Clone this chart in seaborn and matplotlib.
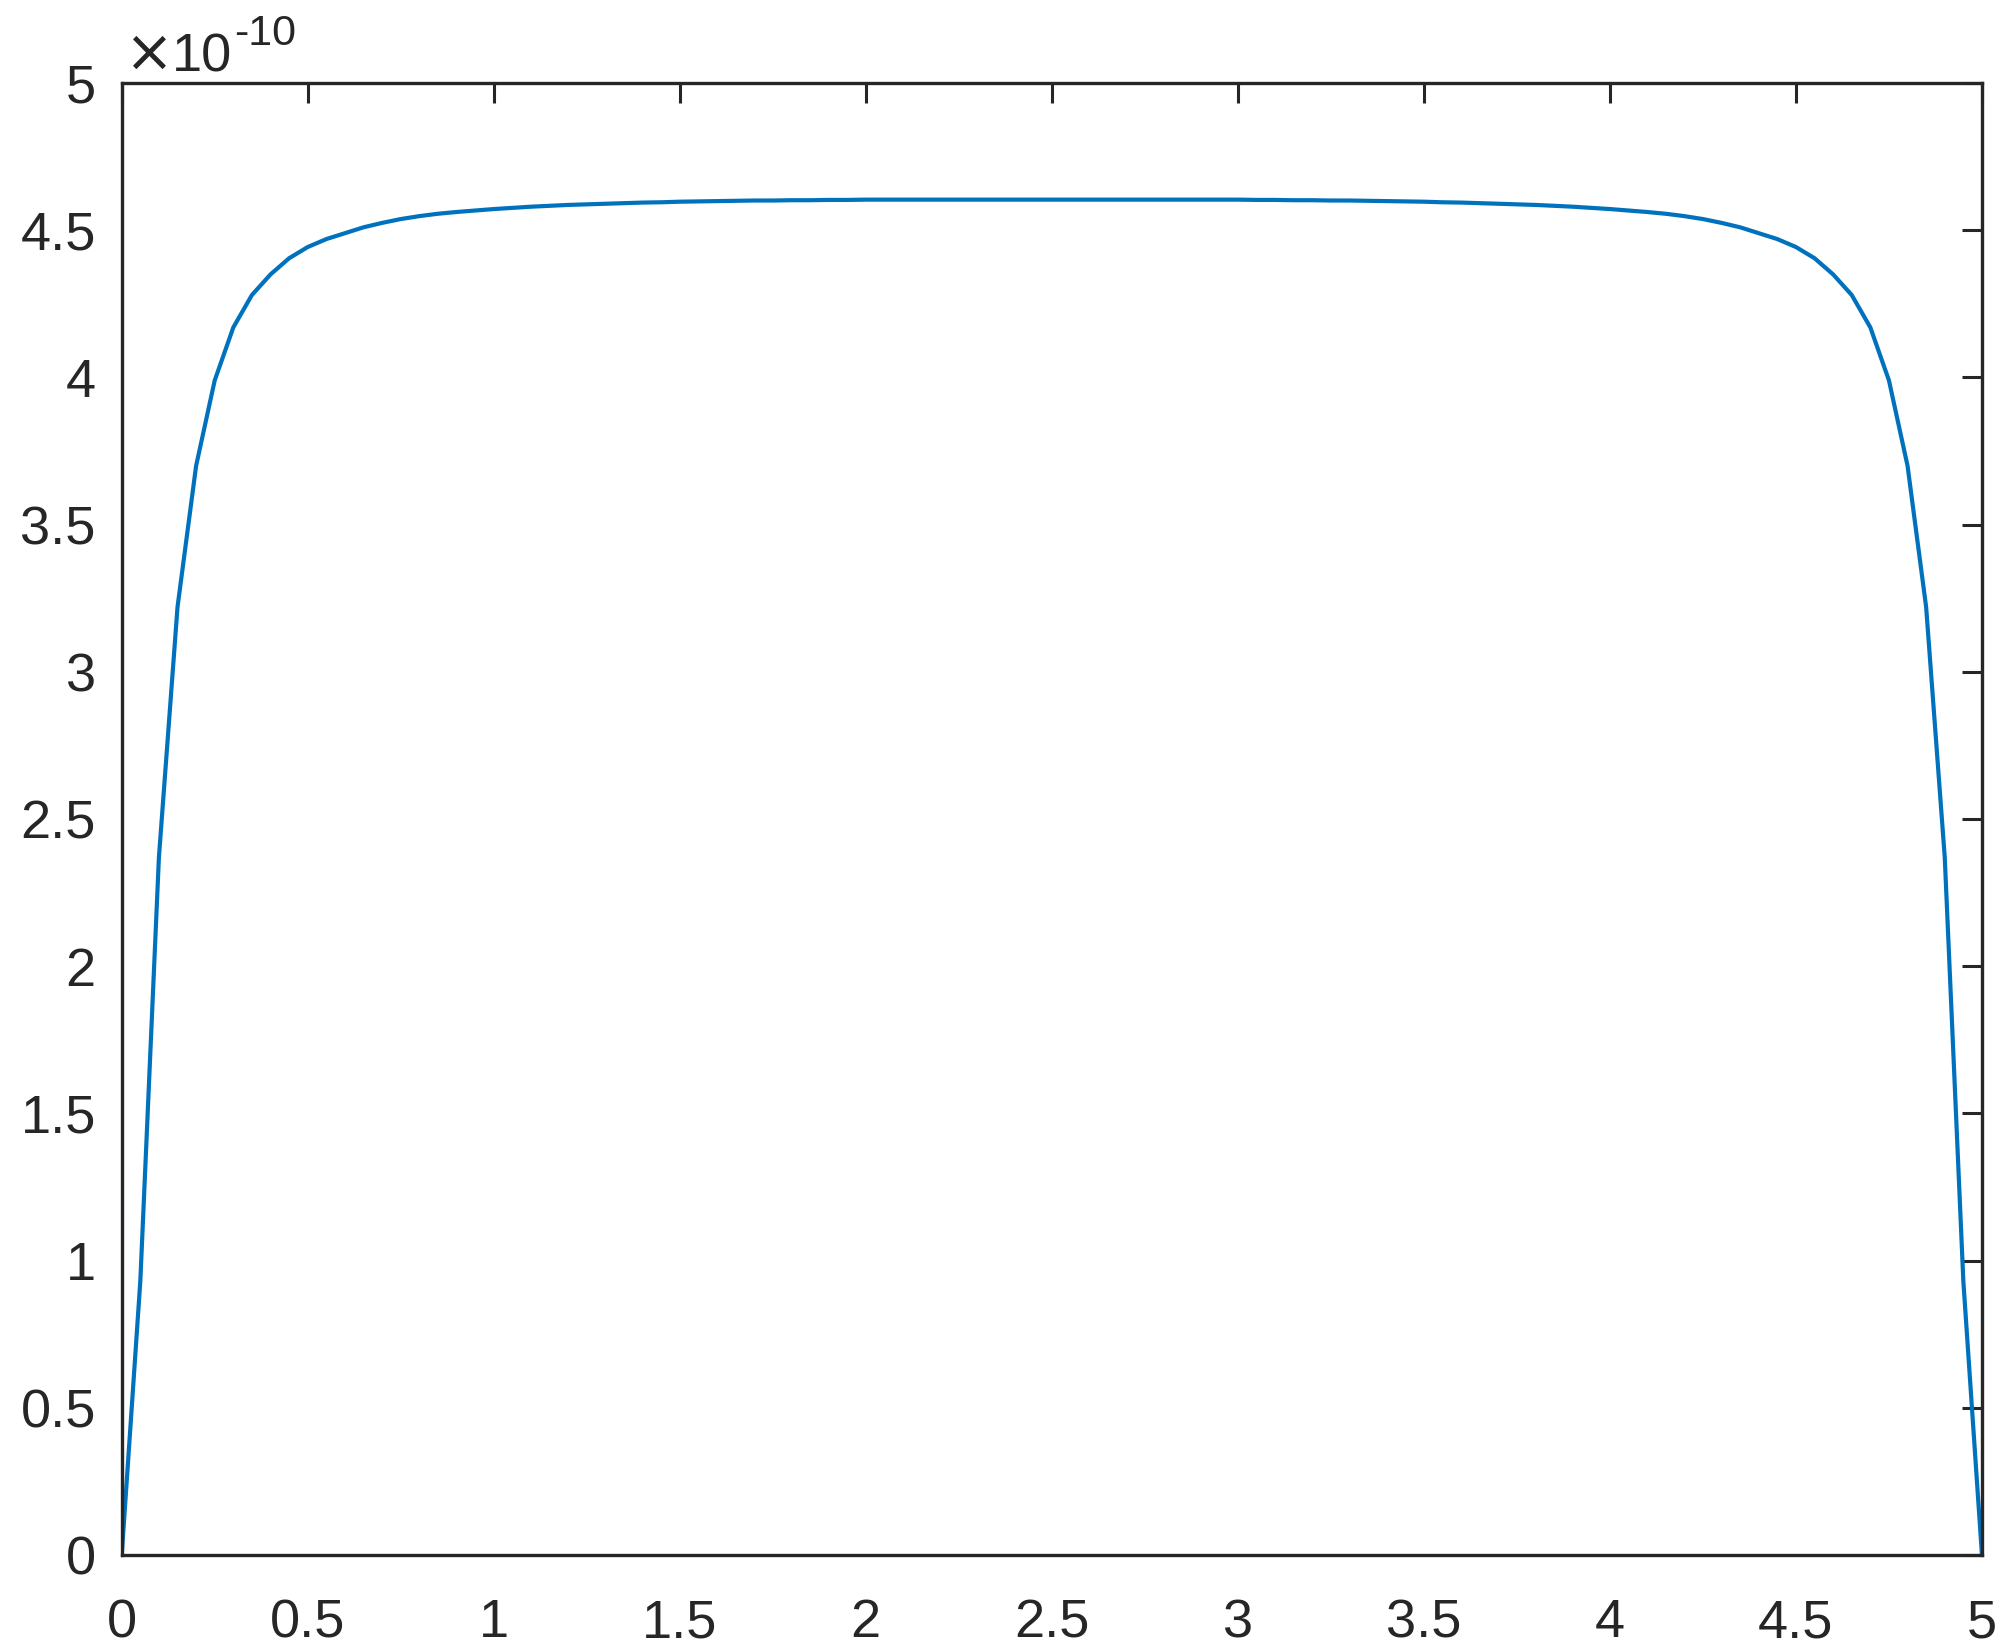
import numpy as np
import seaborn as sns
import matplotlib.pyplot as plt
from matplotlib.ticker import FuncFormatter, MultipleLocator

# sample positions, step 0.05 from 0 to 5
x_vals = [round(i * 0.05, 2) for i in range(101)]

# values in units of 1e-10
y_vals = [
    0.00, 0.93, 2.37, 3.22, 3.70, 3.99, 4.17, 4.28, 4.35, 4.405,
    4.443, 4.470, 4.490, 4.510, 4.525, 4.538, 4.548, 4.556, 4.562, 4.567,
    4.572, 4.576, 4.580, 4.583, 4.586, 4.588, 4.590, 4.592, 4.594, 4.595,
    4.597, 4.598, 4.599, 4.600, 4.601, 4.601, 4.602, 4.602, 4.603, 4.603,
    4.604, 4.604, 4.604, 4.604, 4.604, 4.604, 4.604, 4.604, 4.604, 4.604,
    4.604,
    4.604, 4.604, 4.604, 4.604, 4.604, 4.604, 4.604, 4.604, 4.604, 4.604,
    4.603, 4.603, 4.602, 4.602, 4.601, 4.601, 4.600, 4.599, 4.598, 4.597,
    4.595, 4.594, 4.592, 4.590, 4.588, 4.586, 4.583, 4.580, 4.576, 4.572,
    4.567, 4.562, 4.556, 4.548, 4.538, 4.525, 4.510, 4.490, 4.470, 4.443,
    4.405, 4.35, 4.28, 4.17, 3.99, 3.70, 3.22, 2.37, 0.93, 0.00,
]

sns.set_theme(style="white")
plt.rcParams['font.family'] = ['Liberation Sans', 'DejaVu Sans']

dark = '#262626'
fs = 19.5
fig = plt.figure(figsize=(10.075, 8.255), dpi=200)
ax = fig.add_axes([0.0604, 0.0581, 0.9232, 0.8916])

sns.lineplot(x=x_vals, y=y_vals, ax=ax, color='#0072BD', linewidth=1.5)

ax.set_xlim(0, 5)
ax.set_ylim(0, 5)
ax.xaxis.set_major_locator(MultipleLocator(0.5))
ax.yaxis.set_major_locator(MultipleLocator(0.5))
fmt = FuncFormatter(lambda v, p: f"{v:g}")
ax.xaxis.set_major_formatter(fmt)
ax.yaxis.set_major_formatter(fmt)

for s in ax.spines.values():
    s.set_visible(True)
    s.set_color(dark)
    s.set_linewidth(1.2)

ax.tick_params(axis='both', which='both', direction='in', length=7.2, width=1.1,
               color=dark, labelcolor=dark, labelsize=fs,
               top=True, right=True)
ax.tick_params(axis='x', pad=15.5)
ax.tick_params(axis='y', pad=9.3)

# exponent label, MATLAB style: "×10" with raised "-10"
ax.annotate('\u00d7', xy=(0, 1), xycoords='axes fraction', xytext=(1.2, 4.3),
            textcoords='offset points', ha='left', va='baseline',
            fontsize=21, color=dark, family='DejaVu Sans')
ax.annotate('10', xy=(0, 1), xycoords='axes fraction', xytext=(18.2, 4.3),
            textcoords='offset points', ha='left', va='baseline',
            fontsize=fs, color=dark)
ax.annotate('-10', xy=(0, 1), xycoords='axes fraction', xytext=(40.5, 13.7),
            textcoords='offset points', ha='left', va='baseline',
            fontsize=15.5, color=dark)

fig.savefig('out.png', dpi=200)
